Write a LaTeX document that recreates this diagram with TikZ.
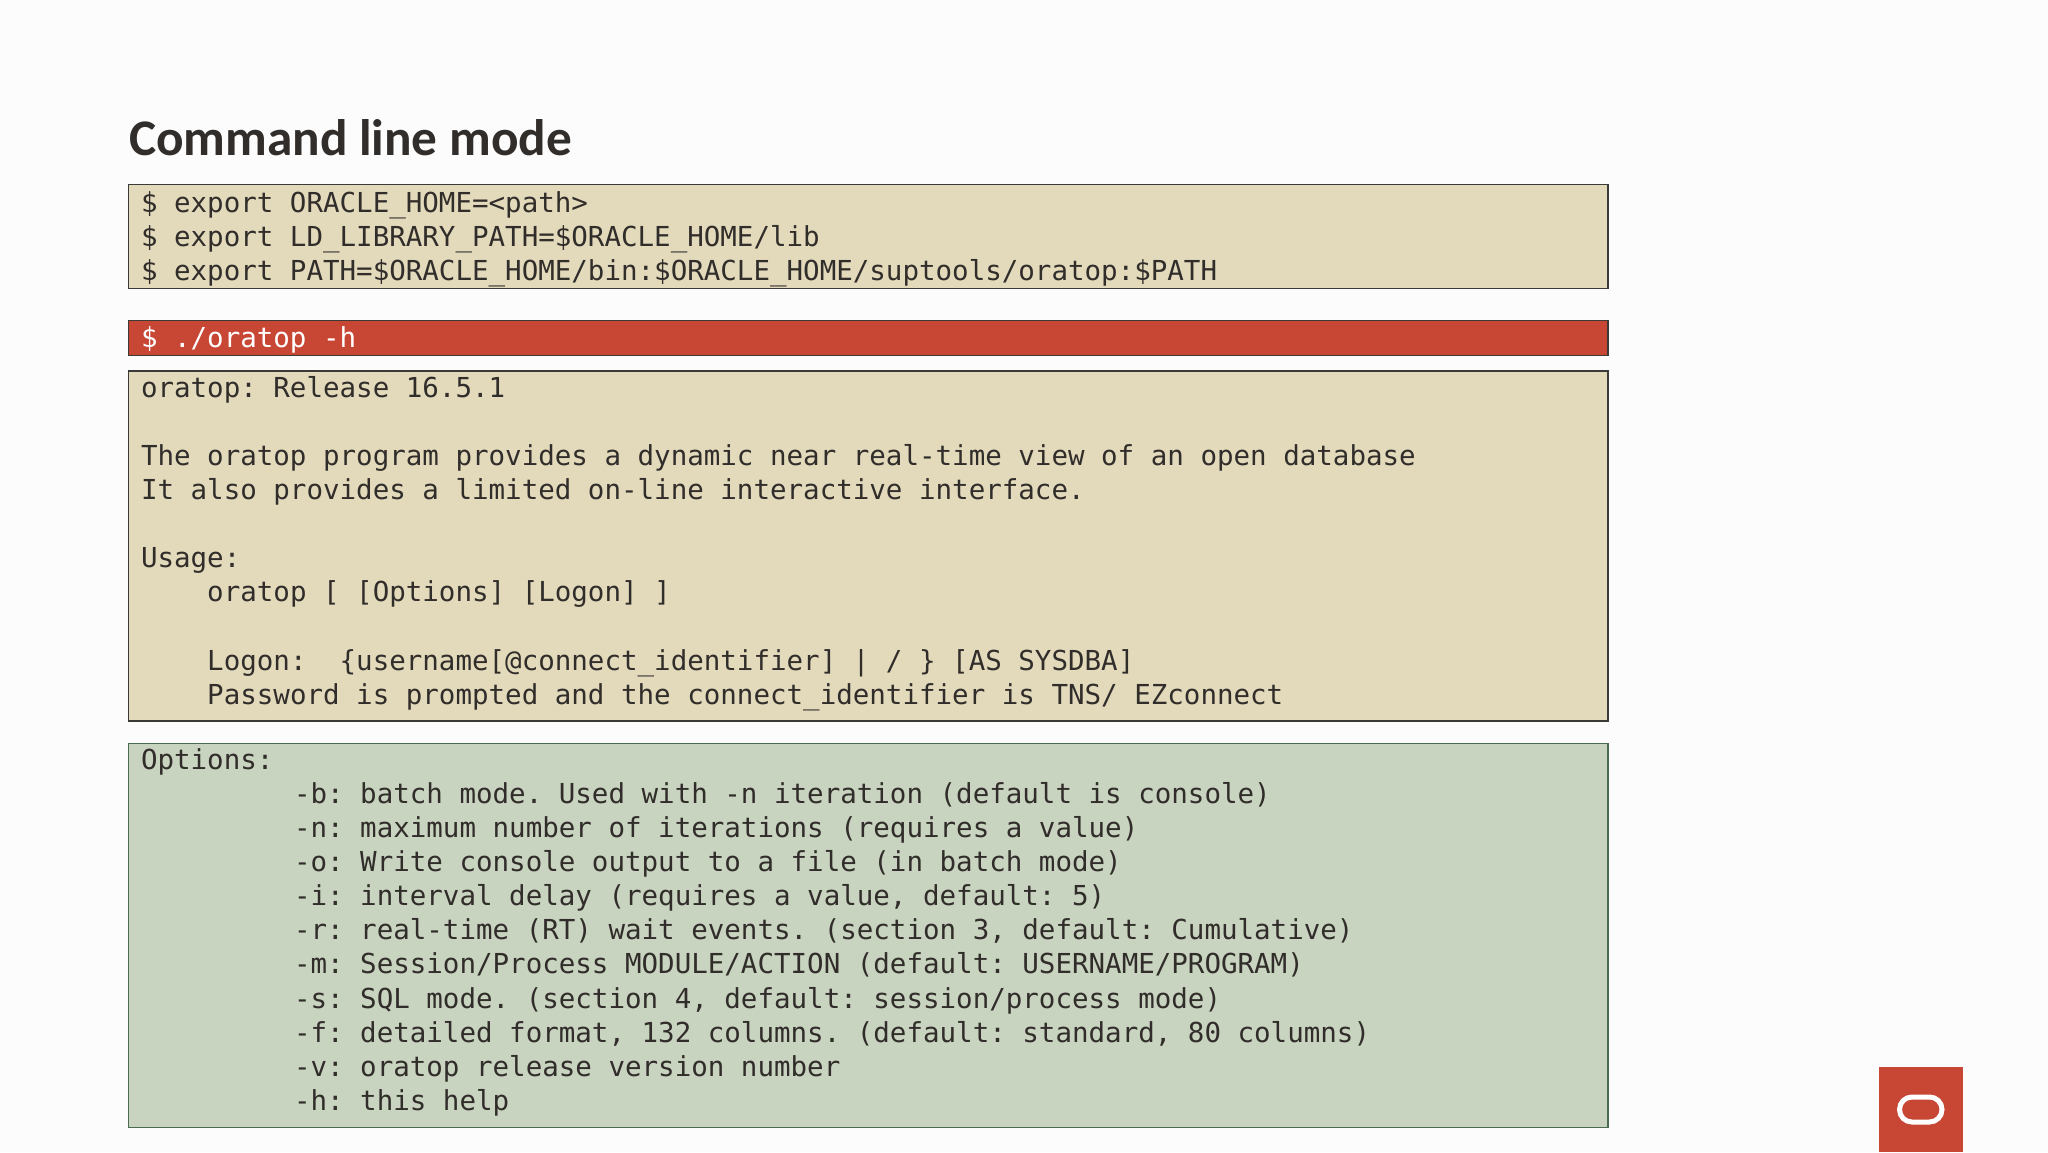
\documentclass[tikz,border=0pt]{standalone}
\usepackage{fontspec}
\newfontfamily\codefont{DejaVu Sans Mono}
\newfontfamily\titlefont{Carlito}
\definecolor{pagebg}{HTML}{FCFCFD}
\definecolor{sand}{HTML}{E3DABC}
\definecolor{sage}{HTML}{C8D4BF}
\definecolor{orared}{HTML}{C74634}
\definecolor{ink}{HTML}{312D2A}
\definecolor{edge}{HTML}{3A3A36}
\definecolor{edgegreen}{HTML}{4A6B52}
\tikzset{
  x=1pt,y=-1pt,
  panel/.style={draw=edge,line width=1.5pt,fill=sand,anchor=north west,inner sep=0pt,outer sep=0pt},
  code/.style={anchor=north west,inner sep=0pt,outer sep=0pt,align=left,text=ink,
    font=\codefont\frenchspacing\fontsize{27.5pt}{34.1pt}\selectfont},
  headline/.style={anchor=base west,inner sep=0pt,outer sep=0pt,text=ink,
    font=\titlefont\bfseries\fontsize{51.3pt}{55pt}\selectfont},
}
\newcommand{\fl}{\rule{0pt}{26pt}}
\newcommand{\optln}{\hspace*{153pt}}
\begin{document}
\begin{tikzpicture}
\fill[pagebg] (0,0) rectangle (2048,1152);
\useasboundingbox (0,0) rectangle (2048,1152);

\node[headline] (title) at (129,155) {Command line mode};

\node[panel,minimum width=1479.5pt,minimum height=104pt] (env) at (128.5,184.5) {};
\node[code] (envtext) at (141,186) {\fl\$ export ORACLE\_HOME=<path>\\
\$ export LD\_LIBRARY\_PATH=\$ORACLE\_HOME/lib\\
\$ export PATH=\$ORACLE\_HOME/bin:\$ORACLE\_HOME/suptools/oratop:\$PATH};

\node[panel,fill=orared,minimum width=1479.5pt,minimum height=35pt] (cmd) at (128.5,320.5) {};
\node[code,text=white] (cmdtext) at (141,321) {\fl\$ ./oratop -h};

\node[panel,minimum width=1479.5pt,minimum height=350pt] (help) at (128.5,371) {};
\node[code] (helptext) at (141,371.3) {\fl oratop: Release 16.5.1\\
\mbox{}\\
The oratop program provides a dynamic near real-time view of an open database\\
It also provides a limited on-line interactive interface.\\
\mbox{}\\
Usage:\\
~~~~oratop [ [Options] [Logon] ]\\
\mbox{}\\
~~~~Logon:~~\{username[@connect\_identifier] | / \} [AS SYSDBA]\\
~~~~Password is prompted and the connect\_identifier is TNS/ EZconnect};

\node[panel,fill=sage,draw=edgegreen,minimum width=1479.5pt,minimum height=384pt] (opts) at (128.5,743.5) {};
\node[code] (optstext) at (141,743.3) {\fl Options:\\
\optln -b: batch mode. Used with -n iteration (default is console)\\
\optln -n: maximum number of iterations (requires a value)\\
\optln -o: Write console output to a file (in batch mode)\\
\optln -i: interval delay (requires a value, default: 5)\\
\optln -r: real-time (RT) wait events. (section 3, default: Cumulative)\\
\optln -m: Session/Process MODULE/ACTION (default: USERNAME/PROGRAM)\\
\optln -s: SQL mode. (section 4, default: session/process mode)\\
\optln -f: detailed format, 132 columns. (default: standard, 80 columns)\\
\optln -v: oratop release version number\\
\optln -h: this help};

\node[anchor=north west,fill=orared,inner sep=0pt,outer sep=0pt,minimum width=84.5pt,minimum height=85pt] (logo) at (1878.5,1067) {};
\node[draw=white,line width=5pt,rounded corners=12.4pt,minimum width=42.5pt,minimum height=25pt,inner sep=0pt] (logoring) at (logo.center) {};
\end{tikzpicture}
\end{document}
